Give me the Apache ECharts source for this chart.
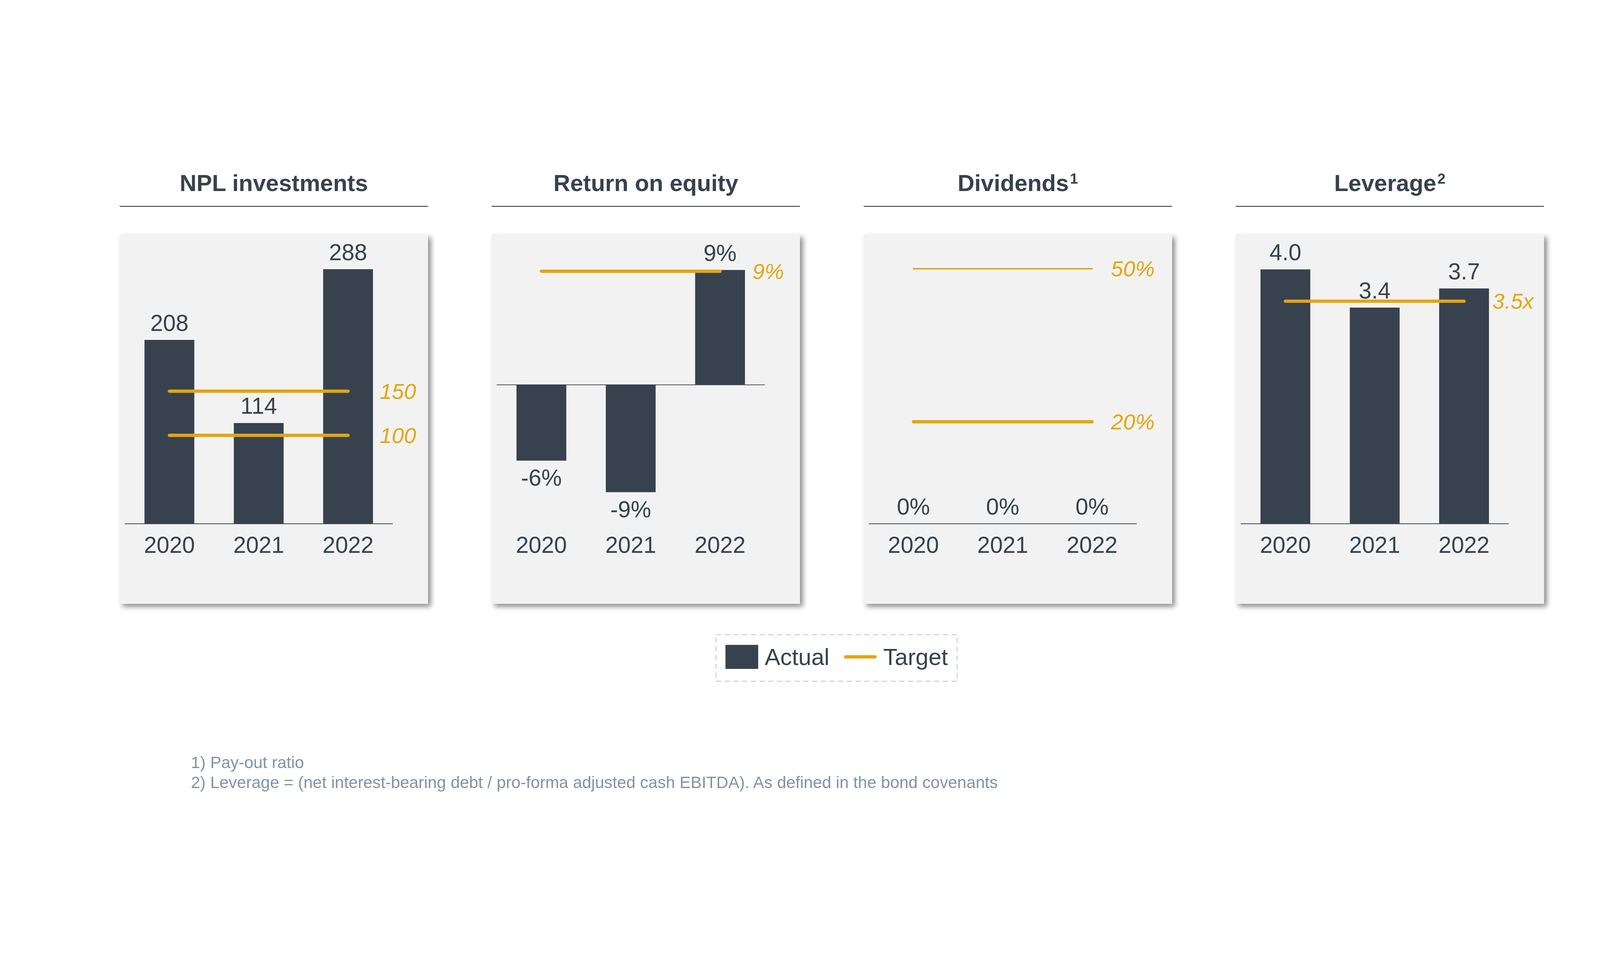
<!DOCTYPE html>
<html><head><meta charset="utf-8">
<script src="https://cdn.jsdelivr.net/npm/echarts@6/dist/echarts.min.js"></script>
<style>html,body{margin:0;padding:0;background:#fff;overflow:hidden}#c{width:4400px;height:2475px;transform-origin:0 0}</style>
</head><body><div id="c"></div>
<script>
// ---- data ----
const years = ['2020', '2021', '2022'];
const panelTitles = ['NPL investments', 'Return on equity', 'Dividends', 'Leverage'];
const titleNotes = ['', '', '1', '2'];
const nplActual = [208, 114, 288];
const nplTargets = [150, 100];
const roeActual = [-6.0, -8.5, 9.1];
const roeTargets = [9];
const divActual = [0, 0, 0];
const divTargets = [50, 20];
const levActual = [4.0, 3.4, 3.7];
const levTargets = [3.5];
const legendNames = ['Actual', 'Target'];
const footnotes = [
  '1) Pay-out ratio',
  '2) Leverage = (net interest-bearing debt / pro-forma adjusted cash EBITDA). As defined in the bond covenants'
];

// ---- fit the 4400x2475 design into the actual viewport ----
const dom = document.getElementById('c');
const fit = Math.min(window.innerWidth / 4400, window.innerHeight / 2475);
if (Math.abs(fit - 1) > 0.001) dom.style.transform = 'scale(' + fit + ')';

// ---- styling ----
const DARK = '#37424e';
const ORANGE = '#e3a60c';
const FONT = '"Liberation Sans", Arial, Helvetica, sans-serif';
const PANEL_L = [329, 1352, 2375, 3398];
const PANEL_W = 848;
const GRID_TOP = 711, GRID_H = 729;
const yRanges = [[0, 300], [-11, 10], [0, 52], [0, 4.17]];

const chart = echarts.init(dom, null, { renderer: 'svg', width: 4400, height: 2475 });

const grids = [], xAxes = [], yAxes = [], series = [];
PANEL_L.forEach((pl, i) => {
  grids.push({ left: pl + 14, width: 737, top: GRID_TOP, height: GRID_H, containLabel: false });
  xAxes.push({
    type: 'category', gridIndex: i, data: years,
    axisLine: { show: false, onZero: false }, axisTick: { show: false },
    axisLabel: { fontSize: 63, color: DARK, fontFamily: FONT, margin: 26, lineHeight: 64 },
    splitLine: { show: false }
  });
  yAxes.push({ type: 'value', gridIndex: i, min: yRanges[i][0], max: yRanges[i][1], show: false, splitLine: { show: false } });
});

function barSeries(i, values, fmt) {
  return {
    type: 'bar', name: legendNames[0], xAxisIndex: i, yAxisIndex: i,
    data: values.map(v => ({ value: v, label: { position: v < 0 ? 'bottom' : 'top' } })),
    barWidth: 137, itemStyle: { color: DARK }, z: 2,
    label: { show: true, distance: 15, fontSize: 63, color: DARK, fontFamily: FONT, lineHeight: 64,
      formatter: p => fmt(p.value) },
    markLine: { silent: true, symbol: ['none', 'none'], label: { show: false },
      lineStyle: { color: DARK, width: 2, type: 'solid' }, data: [{ yAxis: 0 }] }
  };
}
function targetSeries(i, t, fmt, dist, width) {
  return {
    type: 'line', name: legendNames[1], xAxisIndex: i, yAxisIndex: i,
    data: years.map(() => t), symbol: 'none', color: ORANGE, z: 5,
    lineStyle: { width: width, color: ORANGE, cap: 'round' },
    endLabel: { show: true, distance: dist, formatter: () => fmt(t), color: ORANGE,
      fontStyle: 'italic', fontSize: 60, fontFamily: FONT }
  };
}

series.push(barSeries(0, nplActual, v => v.toFixed(0)));
nplTargets.forEach(t => series.push(targetSeries(0, t, v => v.toFixed(0), 87, 9)));
series.push(barSeries(1, roeActual, v => v.toFixed(0) + '%'));
roeTargets.forEach(t => series.push(targetSeries(1, t, v => v.toFixed(0) + '%', 89, 9)));
series.push(barSeries(2, divActual, v => v.toFixed(0) + '%'));
divTargets.forEach((t, k) => series.push(targetSeries(2, t, v => v.toFixed(0) + '%', 52, k === 0 ? 4 : 9)));
series.push(barSeries(3, levActual, v => v.toFixed(1)));
levTargets.forEach(t => series.push(targetSeries(3, t, v => v.toFixed(1) + 'x', 78, 9)));

const graphics = [];
PANEL_L.forEach((pl, i) => {
  graphics.push({ type: 'rect', silent: true, z: 0,
    shape: { x: pl, y: 644, width: PANEL_W, height: 1016 },
    style: { fill: '#f2f2f2', shadowBlur: 14, shadowOffsetX: 8, shadowOffsetY: 8, shadowColor: 'rgba(0,0,0,0.45)' } });
  graphics.push({ type: 'rect', silent: true, z: 0,
    shape: { x: pl, y: 566, width: PANEL_W, height: 2.5 },
    style: { fill: DARK, shadowBlur: 8, shadowOffsetY: 6, shadowColor: 'rgba(0,0,0,0.15)' } });
  graphics.push({ type: 'text', silent: true, z: 1, x: pl + PANEL_W / 2, y: 503,
    style: { text: panelTitles[i] + (titleNotes[i] ? '{sup|' + titleNotes[i] + '}' : ''),
      fill: DARK, fontSize: 64, fontWeight: 'bold', fontFamily: FONT, lineHeight: 64,
      align: 'center', verticalAlign: 'middle',
      rich: { sup: { fontSize: 40, fontWeight: 'bold', fontFamily: FONT, fill: DARK, lineHeight: 40, verticalAlign: 'top', padding: [0, 0, 0, 3] } } } });
});
graphics.push({ type: 'rect', silent: true, z: 0,
  shape: { x: 1969, y: 1745, width: 663, height: 128 },
  style: { fill: 'none', stroke: '#cdd1d5', lineWidth: 3, lineDash: [14, 10] } });
footnotes.forEach((t, k) => graphics.push({ type: 'text', silent: true, z: 1, x: 525, y: 2096 + k * 55,
  style: { text: t, fill: '#8094a5', fontSize: 45.5, fontFamily: FONT, align: 'left', verticalAlign: 'middle' } }));

chart.setOption({
  animation: false,
  backgroundColor: '#ffffff',
  grid: grids, xAxis: xAxes, yAxis: yAxes, series: series,
  legend: {
    selectedMode: false, orient: 'horizontal', left: 1995, top: 1773, padding: 0,
    itemWidth: 90, itemHeight: 66, itemGap: 40,
    textStyle: { fontSize: 64, color: DARK, fontFamily: FONT, padding: [0, 0, 0, 13], lineHeight: 66 },
    data: [
      { name: legendNames[0], icon: 'rect' },
      { name: legendNames[1], icon: 'path://M4.5,0H85.5A4.5,4.5,0,0,1,85.5,9H4.5A4.5,4.5,0,0,1,4.5,0Z' }
    ]
  },
  graphic: graphics
});
</script></body></html>
